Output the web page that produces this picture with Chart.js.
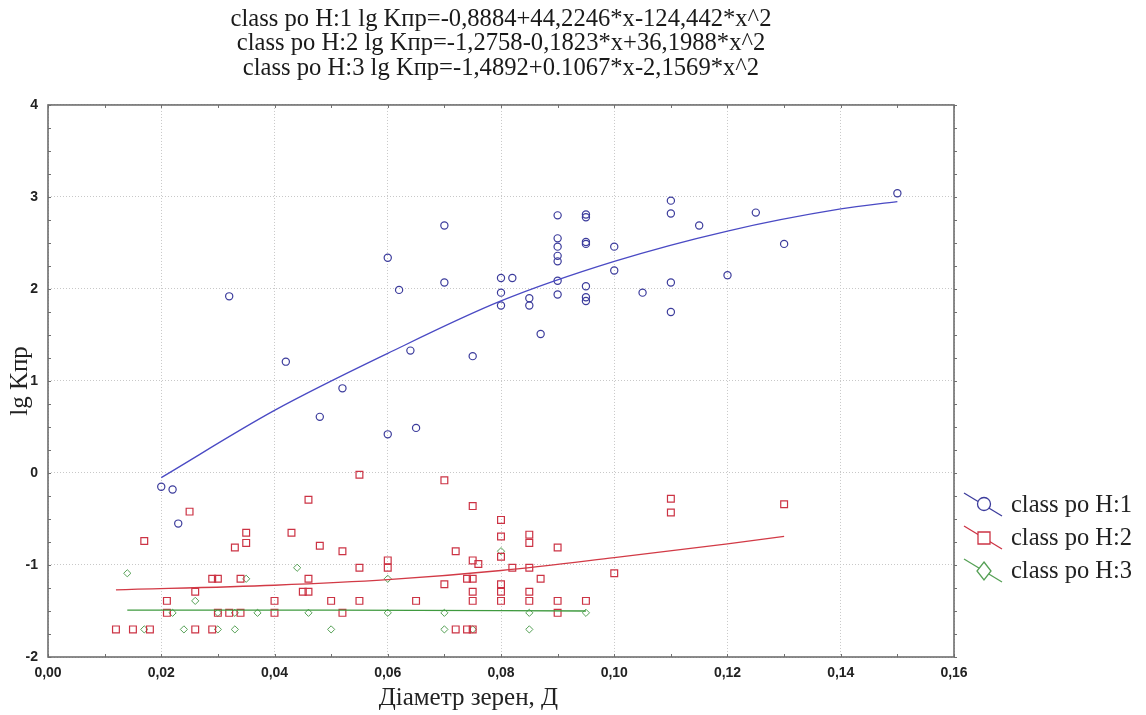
<!DOCTYPE html>
<html>
<head>
<meta charset="utf-8">
<script src="https://cdn.jsdelivr.net/npm/chart.js@4.4.1/dist/chart.umd.min.js"></script>
<style>
  html, body { margin: 0; padding: 0; background: #fff; }
  #wrap { width: 1146px; height: 715px; }
</style>
</head>
<body>
<div id="wrap"><canvas id="grafico" width="1146" height="715"></canvas></div>
<script>
// Datos: [diámetro, lg Kпр]
const clase1 = [
    [0.020, -0.15], [0.022, -0.18], [0.023, -0.55], [0.032, 1.92], [0.042, 1.21],
    [0.048, 0.61], [0.052, 0.92], [0.060, 2.34], [0.060, 0.42], [0.062, 1.99],
    [0.064, 1.33], [0.065, 0.49], [0.070, 2.69], [0.070, 2.07], [0.075, 1.27],
    [0.080, 2.12], [0.080, 1.96], [0.080, 1.82], [0.082, 2.12], [0.085, 1.90],
    [0.085, 1.82], [0.087, 1.51], [0.090, 2.80], [0.090, 2.55], [0.090, 2.46],
    [0.090, 2.36], [0.090, 2.30], [0.090, 2.09], [0.090, 1.94], [0.095, 2.81],
    [0.095, 2.78], [0.095, 2.51], [0.095, 2.49], [0.095, 2.03], [0.095, 1.91],
    [0.095, 1.87], [0.100, 2.46], [0.100, 2.20], [0.105, 1.96], [0.110, 2.96],
    [0.110, 2.82], [0.110, 2.07], [0.110, 1.75], [0.115, 2.69], [0.120, 2.15],
    [0.125, 2.83], [0.130, 2.49], [0.150, 3.04]
];
const clase2 = [
    [0.012, -1.70], [0.015, -1.70], [0.018, -1.70], [0.017, -0.74], [0.025, -0.42],
    [0.021, -1.39], [0.021, -1.52], [0.026, -1.29], [0.026, -1.70], [0.029, -1.15],
    [0.030, -1.15], [0.029, -1.70], [0.030, -1.52], [0.032, -1.52], [0.033, -0.81],
    [0.034, -1.15], [0.034, -1.52], [0.035, -0.65], [0.035, -0.76], [0.040, -1.39],
    [0.040, -1.52], [0.043, -0.65], [0.045, -1.29], [0.046, -1.29], [0.046, -0.29],
    [0.046, -1.15], [0.048, -0.79], [0.050, -1.39], [0.052, -0.85], [0.052, -1.52],
    [0.055, -0.02], [0.055, -1.03], [0.055, -1.39], [0.060, -0.95], [0.060, -1.03],
    [0.065, -1.39], [0.070, -0.08], [0.070, -1.21], [0.072, -0.85], [0.072, -1.70],
    [0.074, -1.15], [0.074, -1.70], [0.075, -0.36], [0.075, -0.95], [0.075, -1.15],
    [0.075, -1.29], [0.075, -1.39], [0.075, -1.70], [0.076, -0.99], [0.080, -0.51],
    [0.080, -0.69], [0.080, -0.91], [0.080, -1.21], [0.080, -1.29], [0.080, -1.39],
    [0.082, -1.03], [0.085, -0.67], [0.085, -0.76], [0.085, -1.03], [0.085, -1.29],
    [0.085, -1.39], [0.087, -1.15], [0.090, -0.81], [0.090, -1.39], [0.090, -1.52],
    [0.095, -1.39], [0.100, -1.09], [0.110, -0.28], [0.110, -0.43], [0.130, -0.34]
];
const clase3 = [
    [0.014, -1.09], [0.017, -1.70], [0.022, -1.52], [0.024, -1.70], [0.026, -1.39],
    [0.030, -1.70], [0.030, -1.52], [0.033, -1.52], [0.033, -1.70], [0.035, -1.15],
    [0.037, -1.52], [0.044, -1.03], [0.046, -1.52], [0.050, -1.70], [0.060, -1.15],
    [0.060, -1.52], [0.070, -1.52], [0.070, -1.70], [0.075, -1.70], [0.080, -0.85],
    [0.085, -1.52], [0.085, -1.70], [0.095, -1.52]
];

// Curvas de ajuste
const ajuste1X = [0.02, 0.04, 0.06, 0.08, 0.10, 0.12, 0.14, 0.15];
const ajuste1Y = [-0.05, 0.68, 1.30, 1.87, 2.30, 2.63, 2.87, 2.95];
const ajuste2X = [0.012, 0.04, 0.06, 0.08, 0.10, 0.12, 0.13];
const ajuste2Y = [-1.27, -1.22, -1.16, -1.06, -0.92, -0.77, -0.69];
const ajuste3X = [0.014, 0.05, 0.095];
const ajuste3Y = [-1.49, -1.49, -1.50];

const titulo = [
    'class po H:1 lg Kпр=-0,8884+44,2246*x-124,442*x^2',
    'class po H:2 lg Kпр=-1,2758-0,1823*x+36,1988*x^2',
    'class po H:3 lg Kпр=-1,4892+0.1067*x-2,1569*x^2'
];
const leyenda = ['class po H:1', 'class po H:2', 'class po H:3'];

const azul = '#3c3c9c';
const rojo = '#cc3344';
const verde = '#55a055';

function puntos(lista) {
    return lista.map(p => ({ x: p[0], y: p[1] }));
}
function curva(xs, ys) {
    return xs.map((x, i) => ({ x: x, y: ys[i] }));
}

// Marco, marcas menores, leyenda y título del eje X
const marcoPlugin = {
    id: 'marco',
    beforeDatasetsDraw(chart) {
        const { ctx, chartArea: a, scales } = chart;
        ctx.save();
        ctx.strokeStyle = '#707070';
        ctx.lineWidth = 1;
        ctx.beginPath();
        for (let v = 0; v <= 0.1601; v += 0.01) {
            const px = Math.round(scales.x.getPixelForValue(v)) + 0.5;
            ctx.moveTo(px, a.top); ctx.lineTo(px, a.top + 3);
            ctx.moveTo(px, a.bottom); ctx.lineTo(px, a.bottom - 3);
        }
        for (let v = -2; v <= 4.001; v += 0.25) {
            const py = Math.round(scales.y.getPixelForValue(v)) + 0.5;
            ctx.moveTo(a.left, py); ctx.lineTo(a.left + 3, py);
            ctx.moveTo(a.right, py); ctx.lineTo(a.right + 3, py);
        }
        ctx.stroke();
        ctx.lineWidth = 1.6;
        ctx.strokeStyle = '#6e6e6e';
        ctx.strokeRect(a.left, a.top, a.right - a.left, a.bottom - a.top);
        ctx.restore();
    },
    afterDraw(chart) {
        const { ctx, chartArea: a } = chart;
        ctx.save();
        // Título del eje X
        ctx.fillStyle = '#222';
        ctx.font = '25px "Liberation Serif"';
        ctx.textAlign = 'center';
        ctx.textBaseline = 'alphabetic';
        ctx.fillText('Діаметр зерен, Д', a.left + (a.right - a.left) * 0.464, 705);

        // Leyenda
        const colores = [azul, rojo, verde];
        const filas = [505, 538, 571];
        const cx = a.right + 30;
        ctx.lineWidth = 1.3;
        filas.forEach((y, i) => {
            ctx.strokeStyle = colores[i];
            ctx.beginPath();
            ctx.moveTo(cx - 20, y - 12);
            ctx.lineTo(cx + 18, y + 11);
            ctx.stroke();
            ctx.fillStyle = '#fff';
            ctx.beginPath();
            if (i === 0) {
                ctx.arc(cx, y - 1, 6.5, 0, Math.PI * 2);
            } else if (i === 1) {
                ctx.rect(cx - 6, y - 6, 12, 12);
            } else {
                ctx.moveTo(cx, y - 9); ctx.lineTo(cx + 7, y); ctx.lineTo(cx, y + 9); ctx.lineTo(cx - 7, y);
                ctx.closePath();
            }
            ctx.fill();
            ctx.stroke();
            ctx.fillStyle = '#222';
            ctx.font = '24.5px "Liberation Serif"';
            ctx.textAlign = 'left';
            ctx.textBaseline = 'middle';
            ctx.fillText(leyenda[i], cx + 27, y + 1);
        });
        ctx.restore();
    }
};

document.addEventListener('DOMContentLoaded', function () {
    const ctx = document.getElementById('grafico');
    new Chart(ctx, {
        type: 'scatter',
        data: {
            datasets: [
                {
                    label: 'ajuste 1', data: curva(ajuste1X, ajuste1Y), showLine: true,
                    borderColor: '#4a4ac4', borderWidth: 1.3, pointRadius: 0, cubicInterpolationMode: 'monotone'
                },
                {
                    label: 'ajuste 2', data: curva(ajuste2X, ajuste2Y), showLine: true,
                    borderColor: '#d23a46', borderWidth: 1.3, pointRadius: 0, cubicInterpolationMode: 'monotone'
                },
                {
                    label: 'ajuste 3', data: curva(ajuste3X, ajuste3Y), showLine: true,
                    borderColor: '#3f9a3f', borderWidth: 1.3, pointRadius: 0, cubicInterpolationMode: 'monotone'
                },
                {
                    label: leyenda[0], data: puntos(clase1), pointStyle: 'circle', pointRadius: 3.6,
                    borderColor: azul, backgroundColor: 'rgba(255,255,255,0)', borderWidth: 1.2
                },
                {
                    label: leyenda[1], data: puntos(clase2), pointStyle: 'rect', pointRadius: 4.8,
                    borderColor: rojo, backgroundColor: 'rgba(255,255,255,0)', borderWidth: 1.2
                },
                {
                    label: leyenda[2], data: puntos(clase3), pointStyle: 'rectRot', pointRadius: 3.6,
                    borderColor: verde, backgroundColor: 'rgba(255,255,255,0)', borderWidth: 1
                }
            ]
        },
        options: {
            responsive: false,
            animation: false,
            layout: { padding: { top: 0, left: 0, right: 192, bottom: 0 } },
            plugins: {
                legend: { display: false },
                tooltip: { enabled: false },
                title: {
                    display: true,
                    text: titulo,
                    fullSize: false,
                    color: '#1a1a1a',
                    font: { family: 'Liberation Serif', size: 24.6, weight: 'normal', lineHeight: 0.99 },
                    padding: { top: 7.5, bottom: 24.4 }
                }
            },
            scales: {
                x: {
                    type: 'linear',
                    min: 0,
                    max: 0.16,
                    afterFit: s => { s.height = 58; },
                    border: { display: false, dash: [1, 2] },
                    grid: { color: '#c8c8c8', drawTicks: false },
                    ticks: {
                        stepSize: 0.02,
                        padding: 8,
                        color: '#222',
                        font: { family: 'Liberation Sans', size: 14, weight: 'bold' },
                        callback: v => v.toFixed(2).replace('.', ',')
                    }
                },
                y: {
                    min: -2,
                    max: 4,
                    afterFit: s => { s.width = 48; },
                    border: { display: false, dash: [1, 2] },
                    grid: { color: '#c8c8c8', drawTicks: false },
                    ticks: {
                        stepSize: 1,
                        padding: 10,
                        color: '#222',
                        font: { family: 'Liberation Sans', size: 14, weight: 'bold' },
                        callback: v => String(v)
                    },
                    title: {
                        display: true,
                        text: 'lg Kпр',
                        color: '#222',
                        font: { family: 'Liberation Serif', size: 25, lineHeight: 1 },
                        padding: { top: 8, bottom: 0 }
                    }
                }
            }
        },
        plugins: [marcoPlugin]
    });
});
</script>
</body>
</html>
